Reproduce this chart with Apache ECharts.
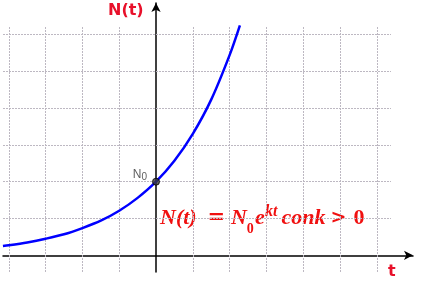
<!DOCTYPE html>
<html>
<head>
<meta charset="utf-8">
<script src="https://cdn.jsdelivr.net/npm/echarts@6/dist/echarts.min.js"></script>
<style>
html,body{margin:0;padding:0;background:#fff;}
#c{width:430px;height:284px;}
</style>
</head>
<body>
<div id="c"></div>
<script>
// Data
var curveT = [-4.16, -4, -3.5, -3, -2.5, -2, -1.5, -1, -0.5, 0, 0.5, 1, 1.5, 2, 2.28];
var curveN = [0.25, 0.27, 0.35, 0.45, 0.57, 0.74, 0.94, 1.21, 1.56, 2.0, 2.57, 3.30, 4.23, 5.44, 6.25];
var n0Point = [0, 2];
var xGridTicks = [-4, -3, -2, -1, 1, 2, 3, 4, 5, 6];
var yGridTicks = [1, 2, 3, 4, 5, 6];
var gridExtentT = [-4.158, 6.386];
var gridExtentN = [-0.454, 6.23];
var yAxisName = 'N(t)';
var xAxisName = 't';
var pointLabel = ['N', '0'];

var chart = echarts.init(document.getElementById('c'), null, {renderer: 'canvas'});

var gridStyle = {color: '#bdb8c2', width: 1, type: [2, 1]};
var gridLines = [];
xGridTicks.forEach(function (t) {
  gridLines.push([{coord: [t, gridExtentN[0]]}, {coord: [t, gridExtentN[1]]}]);
});
yGridTicks.forEach(function (n) {
  gridLines.push([{coord: [gridExtentT[0], n]}, {coord: [gridExtentT[1], n]}]);
});

var curveData = curveT.map(function (t, i) { return [t, curveN[i]]; });

var red = '#f01010';
var option = {
  animation: false,
  grid: {left: 3, right: 17, top: 3, bottom: 12},
  xAxis: {
    type: 'value', min: -4.158, max: 6.984,
    axisLine: {onZero: true, lineStyle: {color: '#000', width: 1.5}, symbol: ['none', 'arrow'], symbolSize: [7, 9]},
    axisTick: {show: false}, axisLabel: {show: false}, splitLine: {show: false}
  },
  yAxis: {
    type: 'value', min: -0.454, max: 6.856,
    axisLine: {onZero: true, lineStyle: {color: '#000', width: 1.5}, symbol: ['none', 'arrow'], symbolSize: [7, 9]},
    axisTick: {show: false}, axisLabel: {show: false}, splitLine: {show: false}
  },
  series: [
    {
      type: 'line', data: [], silent: true,
      markLine: {silent: true, symbol: ['none', 'none'], label: {show: false}, animation: false,
        lineStyle: gridStyle, data: gridLines}
    },
    {
      type: 'line', data: curveData, smooth: 0.3, showSymbol: false, clip: true,
      lineStyle: {color: '#0000ff', width: 2.5}, z: 5
    },
    {
      type: 'scatter', data: [n0Point], symbolSize: 7, z: 6,
      itemStyle: {color: '#3a3a3a', borderColor: '#000', borderWidth: 1},
      label: {
        show: true, position: 'left', distance: 5, offset: [0, -7],
        formatter: '{n|' + pointLabel[0] + '}{s|' + pointLabel[1] + '}',
        rich: {
          n: {fontFamily: 'Liberation Sans', fontSize: 12, color: '#333', lineHeight: 16, verticalAlign: 'middle'},
          s: {fontFamily: 'Liberation Sans', fontSize: 10, color: '#333', lineHeight: 10, verticalAlign: 'bottom'}
        }
      }
    }
  ],
  graphic: [
    {type: 'text', left: 108, top: 3, style: {text: yAxisName, font: 'bold 16px "DejaVu Sans"', fill: '#e8102a'}},
    {type: 'text', left: 388, top: 264, style: {text: xAxisName, font: 'bold 16px "DejaVu Sans"', fill: '#e8102a'}},
    {type: 'text', left: 160, top: 200, style: {
      text: '{a|N(t)}{b|=}{c|N}{d|0}{e|e}{f|kt}{g|conk}{h|>}{i|0}',
      rich: {
        a: {font: 'bold italic 22px "Liberation Serif"', fill: red, lineHeight: 22, width: 47.5, verticalAlign: 'middle'},
        b: {font: 'bold 21px "DejaVu Serif"', fill: red, lineHeight: 22, width: 23.5, verticalAlign: 'middle'},
        c: {font: 'bold italic 22px "Liberation Serif"', fill: red, lineHeight: 22, width: 15.7, verticalAlign: 'middle'},
        d: {font: 'bold 14px "Liberation Serif"', fill: red, lineHeight: 14, width: 8.3, padding: [22, 0, 0, 0], verticalAlign: 'middle'},
        e: {font: 'bold italic 22px "Liberation Serif"', fill: red, lineHeight: 22, width: 10, verticalAlign: 'middle'},
        f: {font: 'bold italic 16px "Liberation Serif"', fill: red, lineHeight: 16, width: 16.5, padding: [0, 0, 12, 0], verticalAlign: 'middle'},
        g: {font: 'bold italic 22px "Liberation Serif"', fill: red, lineHeight: 22, width: 49, verticalAlign: 'middle'},
        h: {font: 'bold 19px "DejaVu Serif"', fill: red, lineHeight: 22, width: 23, verticalAlign: 'middle'},
        i: {font: 'bold 22px "Liberation Serif"', fill: red, lineHeight: 22, width: 12, verticalAlign: 'middle'}
      }
    }}
  ]
};
chart.setOption(option);
</script>
</body>
</html>
